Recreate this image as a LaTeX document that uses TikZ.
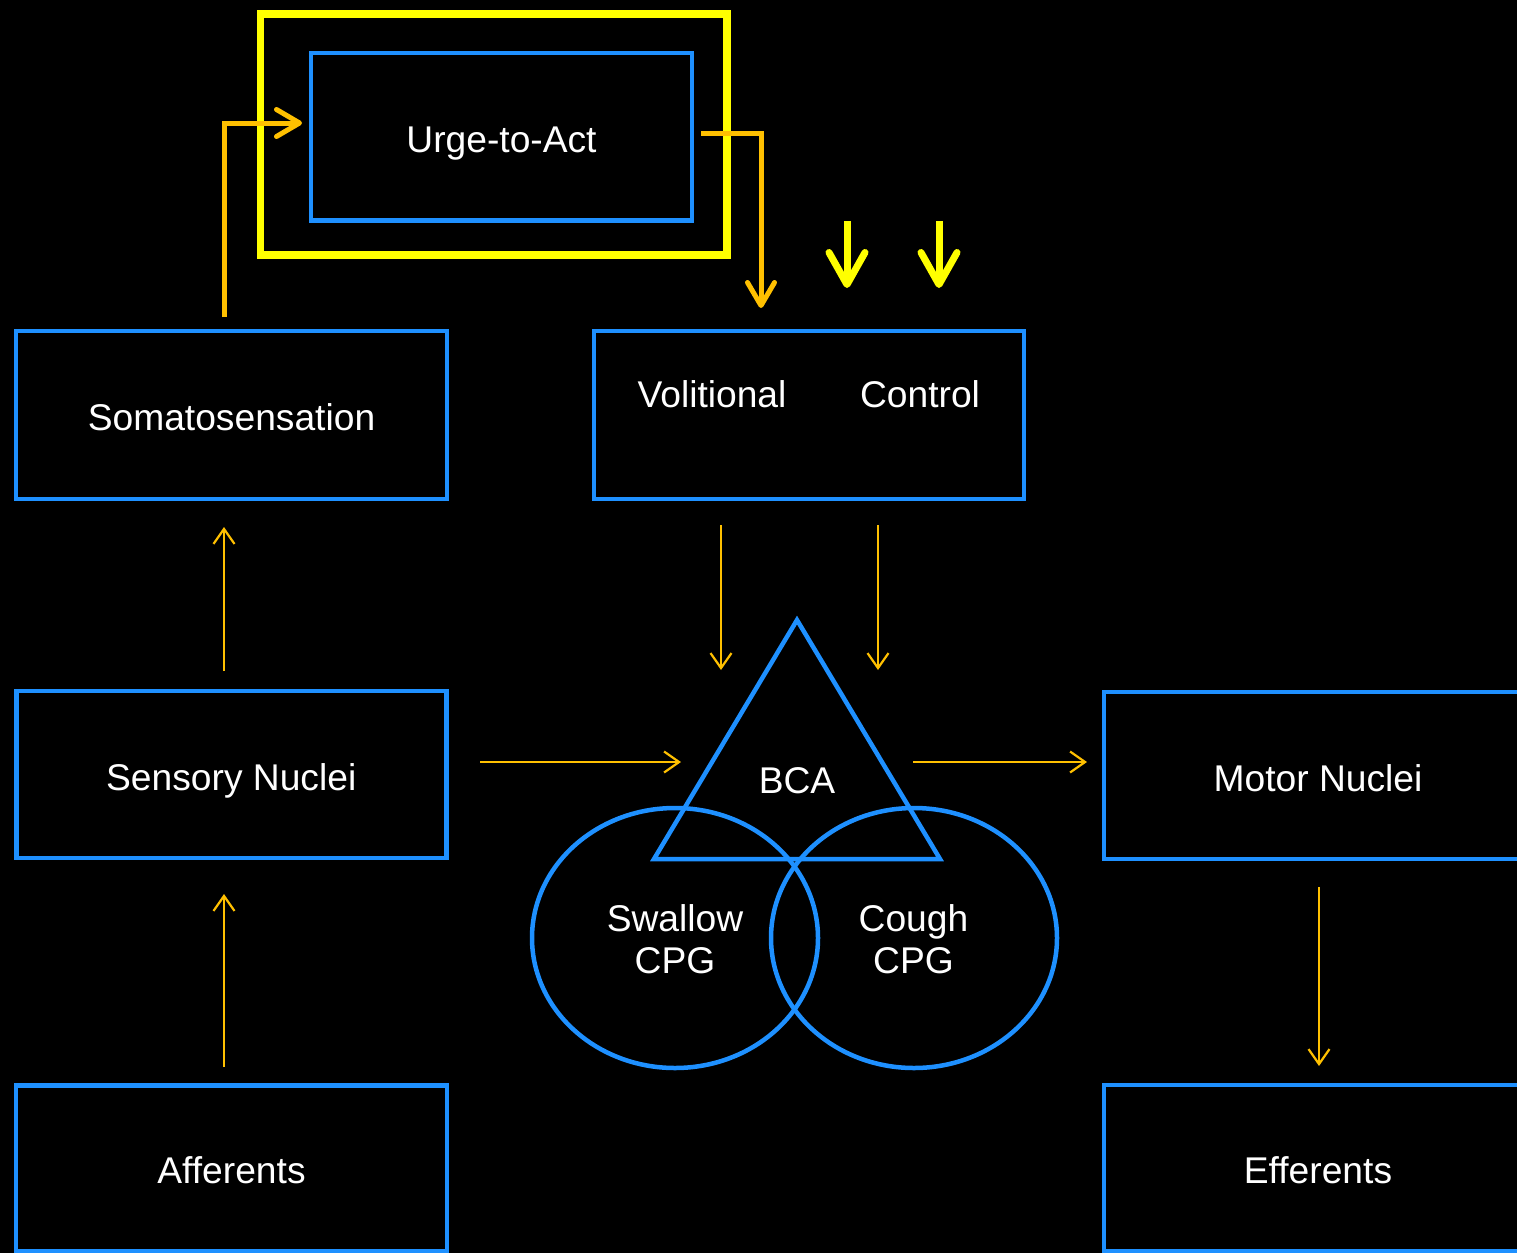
\documentclass[tikz,border=0pt]{standalone}
\usepackage{fontspec}
\setmainfont{Liberation Sans}
\usetikzlibrary{arrows.meta,shapes.geometric}
\definecolor{boxblue}{RGB}{30,144,255}
\definecolor{flow}{RGB}{255,192,0}
\definecolor{hilite}{RGB}{255,255,0}
\begin{document}
\begin{tikzpicture}[x=1pt,y=-1pt,
  lbl/.style={text=white, font=\fontsize{37.2pt}{42pt}\selectfont, inner sep=0pt},
  box/.style={draw=boxblue, line width=4.5pt, text=white,
    font=\fontsize{37.2pt}{42pt}\selectfont, text height=31pt, text depth=0pt, inner sep=0pt},
  cpg/.style={draw=boxblue, line width=4.5pt, ellipse, inner sep=0pt,
    minimum width=286pt, minimum height=260pt},
  thinflow/.style={draw=flow, line width=2.2pt, -{Straight Barb[length=15pt,width=21pt]}},
  boldflow/.style={draw=flow, line width=5pt, -{Straight Barb[length=23pt,width=27pt,round]}},
  cue/.style={draw=hilite, line width=7pt, -{Straight Barb[length=32pt,width=36pt,round]}}]

% canvas
\useasboundingbox (0,0) rectangle (1517,1253);
\fill[black] (0,0) rectangle (1517,1253);
\clip (0,0) rectangle (1517,1253);

% boxes
\node[draw=hilite, line width=7.5pt, minimum width=466.5pt, minimum height=241pt, inner sep=0pt] (frame) at (493.75,134.5) {};
\node[box, minimum width=381pt, minimum height=167.5pt] (urge) at (501.5,136.75) {Urge-to-Act};
\node[box, minimum width=431pt, minimum height=168pt] (soma) at (231.5,415) {Somatosensation};
\node[box, minimum width=430pt, minimum height=168pt] (vol) at (809,415) {};
\node[lbl, anchor=base] (voltxt) at (712,407) {Volitional};
\node[lbl, anchor=base] (ctrltxt) at (920,407) {Control};
\node[box, minimum width=430pt, minimum height=167pt] (sens) at (231.25,774.5) {Sensory Nuclei};
\node[box, minimum width=431pt, minimum height=165.5pt] (aff) at (231.5,1168.25) {Afferents};
\node[box, minimum width=428pt, minimum height=167pt] (motor) at (1318,775.5) {Motor Nuclei};
\node[box, minimum width=428pt, minimum height=166pt] (eff) at (1318,1168) {Efferents};

% brainstem central area with the two pattern generators
\coordinate (apex) at (797,620);
\coordinate (baseL) at (654,859);
\coordinate (baseR) at (940,859);
\draw[draw=boxblue, line width=4.5pt, line join=miter] (apex) -- (baseL) -- (baseR) -- cycle;
\node[lbl, anchor=base] (bca) at (797,793) {BCA};
\node[cpg] (swallow) at (675,938) {};
\node[cpg] (cough) at (914,938) {};
\node[lbl, anchor=base] (swtxt) at (675,931) {Swallow};
\node[lbl, anchor=base] (swcpg) at (675,973) {CPG};
\node[lbl, anchor=base] (cotxt) at (913.5,931) {Cough};
\node[lbl, anchor=base] (cocpg) at (913.5,973) {CPG};

% connector ends
\coordinate (somaUp) at (224,317);
\coordinate (urgeIn) at (302,123);
\coordinate (urgeOut) at (701,133);
\coordinate (volIn) at (761,308);
\coordinate (cueA0) at (847,221);
\coordinate (cueA1) at (847,288);
\coordinate (cueB0) at (939,221);
\coordinate (cueB1) at (939,288);
\coordinate (sensUp0) at (224,671);
\coordinate (sensUp1) at (224,527);
\coordinate (affUp0) at (224,1067);
\coordinate (affUp1) at (224,894);
\coordinate (sensOut) at (480,762);
\coordinate (bcaIn) at (681,762);
\coordinate (bcaOut) at (913,762);
\coordinate (motorIn) at (1087,762);
\coordinate (volL0) at (721,525);
\coordinate (volL1) at (721,670);
\coordinate (volR0) at (878,525);
\coordinate (volR1) at (878,670);
\coordinate (motorDn0) at (1319,887);
\coordinate (motorDn1) at (1319,1066);

% connectors
\draw[boldflow] (somaUp) |- (urgeIn);
\draw[boldflow] (urgeOut) -| (volIn);
\draw[cue] (cueA0) -- (cueA1);
\draw[cue] (cueB0) -- (cueB1);
\draw[thinflow] (sensUp0) -- (sensUp1);
\draw[thinflow] (affUp0) -- (affUp1);
\draw[thinflow] (sensOut) -- (bcaIn);
\draw[thinflow] (bcaOut) -- (motorIn);
\draw[thinflow] (volL0) -- (volL1);
\draw[thinflow] (volR0) -- (volR1);
\draw[thinflow] (motorDn0) -- (motorDn1);
\end{tikzpicture}
\end{document}
